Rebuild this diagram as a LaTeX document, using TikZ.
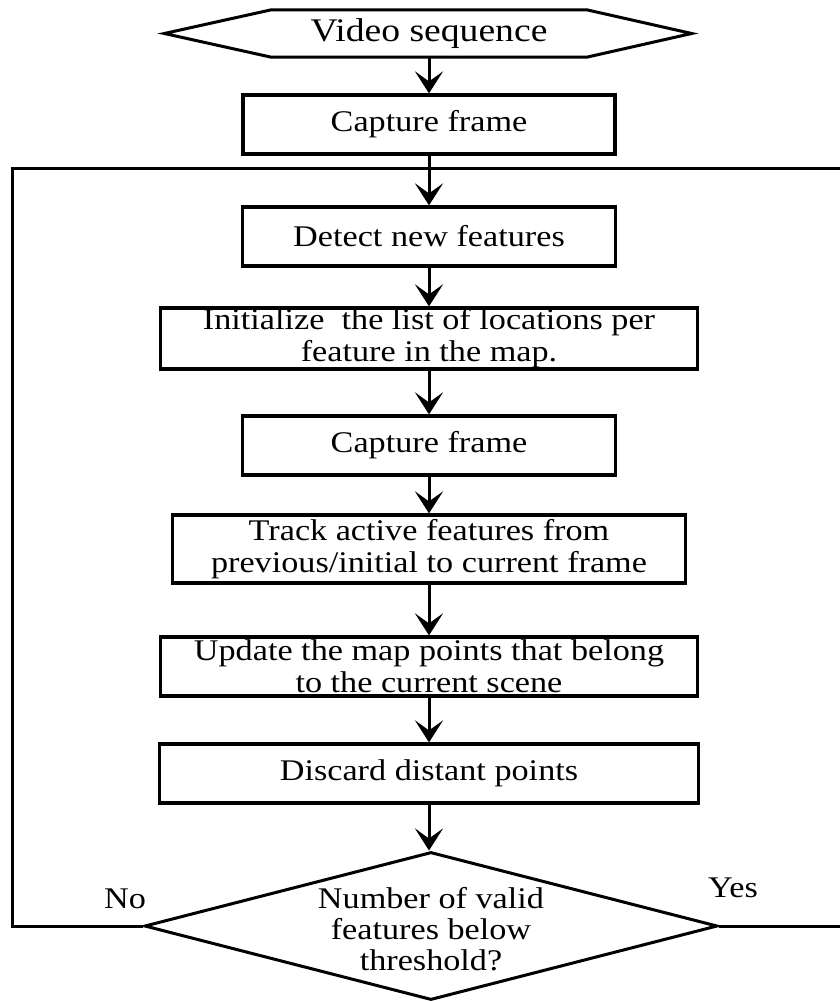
\documentclass[tikz,border=0pt]{standalone}
\usepackage{fontspec}
\setmainfont{Liberation Serif}[FakeStretch=1.14]
\usetikzlibrary{arrows.meta,shapes.geometric}

\begin{document}
\begin{tikzpicture}[x=1pt,y=-1pt,
    box/.style={draw,line width=3.2pt,inner sep=0pt,align=center,font=\fontsize{30}{32}\selectfont},
    arr/.style={line width=3pt,-{Stealth[length=22pt,width=28pt,inset=10pt]}},
    loopline/.style={line width=3pt}]
  \useasboundingbox (0,0) rectangle (840,1001);
  % input hexagon
  \node[inner sep=0pt,minimum width=315,minimum height=47,font=\fontsize{33}{36}\selectfont] (video) at (429,33.5) {Video sequence};
  \draw[line width=3pt] (video.north west) -- (video.north east) -- ([xshift=105pt]video.east)
    -- (video.south east) -- (video.south west) -- ([xshift=-107pt]video.west) -- cycle;
  % processing steps
  \node[box,minimum width=372,minimum height=59] (cap1) at (429,124.5) {Capture frame};
  \node[box,minimum width=373,minimum height=59] (detect) at (429,236.5) {Detect new features};
  \node[box,minimum width=537,minimum height=61] (init) at (429,338.5) {Initialize\ \ the list of locations per\\feature in the map.};
  \node[box,minimum width=373,minimum height=59] (cap2) at (429,445.5) {Capture frame};
  \node[box,minimum width=513,minimum height=68] (track) at (429,549) {Track active features from\\previous/initial to current frame};
  \node[box,minimum width=537,minimum height=59] (update) at (429,666.5) {Update the map points that belong\\to the current scene};
  \node[box,minimum width=539,minimum height=59] (discard) at (429,773.5) {Discard distant points};
  % decision
  \node[draw,diamond,line width=3pt,minimum width=573,minimum height=148,inner sep=0pt] (check) at (431,926) {};
  \node[align=center,inner sep=0pt,font=\fontsize{30}{31}\selectfont] (checktext) at (431,929) {Number of valid\\features below\\threshold?};
  \draw[arr] (video) -- (cap1);
  \draw[arr] (cap1) -- (detect);
  \draw[arr] (detect) -- (init);
  \draw[arr] (init) -- (cap2);
  \draw[arr] (cap2) -- (track);
  \draw[arr] (track) -- (update);
  \draw[arr] (update) -- (discard);
  \draw[arr] (discard) -- (check.north -| discard);
  % loop back and exit
  \coordinate (nocorner) at (12,926);
  \coordinate (loopcorner) at (12,168);
  \coordinate (loopend) at (840,168);
  \coordinate (yesend) at (840,926);
  \draw[loopline] (check.west) -- (nocorner) -- (loopcorner) -- (loopend);
  \draw[loopline] (check.east) -- (yesend);
  \node[font=\fontsize{30}{32}\selectfont] (no) at (125,899) {No};
  \node[font=\fontsize{30}{32}\selectfont] (yes) at (733,888) {Yes};
\end{tikzpicture}
\end{document}
